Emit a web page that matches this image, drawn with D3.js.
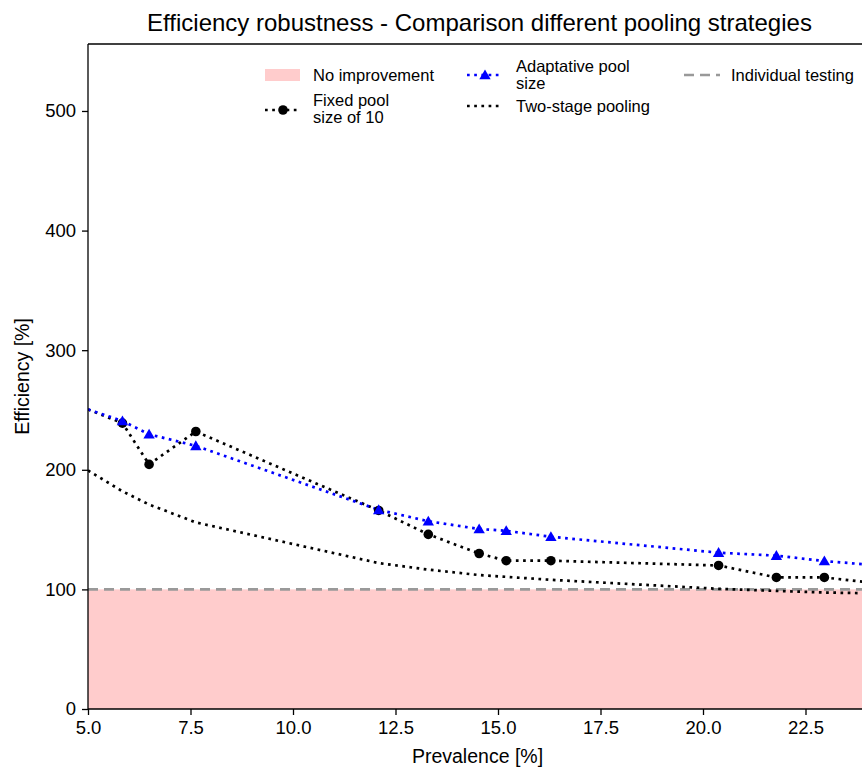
<!DOCTYPE html>
<html>
<head>
<meta charset="utf-8">
<script src="https://cdn.jsdelivr.net/npm/d3@7"></script>
<style>
  body { margin: 0; background: #fff; }
  svg text { font-family: "Liberation Sans", Arial, Helvetica, sans-serif; fill: #000; }
</style>
</head>
<body>
<div id="chart"></div>
<script>
// prevalence [%] at which the strategies were evaluated
const prevalence = [5.0, 5.84, 6.49, 7.63, 12.09, 13.3, 14.54, 15.2, 16.29, 20.38, 21.79, 22.96, 24.0];
// efficiency [%] per strategy
const fixedPool = [250.5, 239, 204.5, 232, 166, 146, 130, 124, 124, 120, 110, 110, 106];
const adaptivePool = [250.5, 240.8, 229.7, 220, 166.5, 157, 150.5, 149, 144, 130.7, 128.2, 123.7, 120.8];
const twoStage = [199.5, 182, 171, 156, 122, 116.5, 112, 110.5, 108, 100.5, 98.7, 97.4, 96.8];
const individualLevel = 100;
const xTicks = [5.0, 7.5, 10.0, 12.5, 15.0, 17.5, 20.0, 22.5];
const yTicks = [0, 100, 200, 300, 400, 500];

const W = 862, H = 767;
const margin = { top: 44, right: -5, bottom: 58, left: 88 };
const width = W - margin.left - margin.right;
const height = H - margin.top - margin.bottom;

const svg = d3.select("#chart").append("svg")
  .attr("width", W)
  .attr("height", H);

const g = svg.append("g")
  .attr("transform", `translate(${margin.left},${margin.top})`);

const x = d3.scaleLinear().domain([5, 24]).range([0, width]);
const y = d3.scaleLinear().domain([0, 556]).range([height, 0]);

g.append("clipPath").attr("id", "plotClip")
  .append("rect").attr("width", width).attr("height", height);

const plot = g.append("g").attr("clip-path", "url(#plotClip)");

// no improvement region
plot.append("rect")
  .attr("x", 0)
  .attr("y", y(individualLevel))
  .attr("width", width)
  .attr("height", height - y(individualLevel))
  .attr("fill", "#ffcccc");

// individual testing
plot.append("line")
  .attr("x1", 0).attr("x2", width)
  .attr("y1", y(individualLevel)).attr("y2", y(individualLevel))
  .attr("stroke", "#999999")
  .attr("stroke-width", 2.6)
  .attr("stroke-dasharray", "10,6");

const line = d3.line().x(d => x(d[0])).y(d => y(d[1]));
const dots = "2.7,4.5";

function series(values, color) {
  const pts = prevalence.map((p, i) => [p, values[i]]);
  plot.append("path")
    .datum(pts)
    .attr("d", line)
    .attr("fill", "none")
    .attr("stroke", color)
    .attr("stroke-width", 2.7)
    .attr("stroke-dasharray", dots);
  return pts.slice(1, -1);
}

const twoPts = series(twoStage, "#000");
const fixedPts = series(fixedPool, "#000");
const adaptPts = series(adaptivePool, "#0000ff");

plot.selectAll("circle.fixed")
  .data(fixedPts)
  .enter().append("circle")
  .attr("class", "fixed")
  .attr("cx", d => x(d[0]))
  .attr("cy", d => y(d[1]))
  .attr("r", 4.8)
  .attr("fill", "#000");

const tri = d3.symbol().type(d3.symbolTriangle).size(56);
plot.selectAll("path.adapt")
  .data(adaptPts)
  .enter().append("path")
  .attr("class", "adapt")
  .attr("d", tri)
  .attr("transform", d => `translate(${x(d[0])},${y(d[1]) + 1})`)
  .attr("fill", "#0000ff");

// axes
const xAxis = g.append("g")
  .attr("transform", `translate(0,${height})`)
  .call(d3.axisBottom(x).tickValues(xTicks).tickFormat(d3.format(".1f")).tickSize(6).tickPadding(6));
const yAxis = g.append("g")
  .call(d3.axisLeft(y).tickValues(yTicks).tickSize(6).tickPadding(6));

[xAxis, yAxis].forEach(a => {
  a.select(".domain").remove();
  a.selectAll("line").attr("stroke", "#000").attr("stroke-width", 1.3);
  a.selectAll("text").style("font-size", "18.5px").attr("fill", "#000");
});

// spines (right one is outside the picture)
g.append("line").attr("x1", 0).attr("x2", 0).attr("y1", 0).attr("y2", height)
  .attr("stroke", "#000").attr("stroke-width", 1.3);
g.append("line").attr("x1", 0).attr("x2", width).attr("y1", height).attr("y2", height)
  .attr("stroke", "#000").attr("stroke-width", 1.3);
g.append("line").attr("x1", 0).attr("x2", width).attr("y1", 0).attr("y2", 0)
  .attr("stroke", "#000").attr("stroke-width", 1.3);

// labels
svg.append("text")
  .attr("x", margin.left + width / 2 + 2)
  .attr("y", 31)
  .attr("text-anchor", "middle")
  .style("font-size", "24px")
  .text("Efficiency robustness - Comparison different pooling strategies");

svg.append("text")
  .attr("x", margin.left + width / 2)
  .attr("y", 763)
  .attr("text-anchor", "middle")
  .style("font-size", "19.5px")
  .text("Prevalence [%]");

svg.append("text")
  .attr("transform", `translate(29,${margin.top + height / 2}) rotate(-90)`)
  .attr("text-anchor", "middle")
  .style("font-size", "19.5px")
  .text("Efficiency [%]");

// legend
const leg = svg.append("g").style("font-size", "16.5px");

function handleLine(x0, yy, color, dash, w) {
  leg.append("line")
    .attr("x1", x0).attr("x2", x0 + 36)
    .attr("y1", yy).attr("y2", yy)
    .attr("stroke", color).attr("stroke-width", w)
    .attr("stroke-dasharray", dash);
}

function label(x0, yy, lines) {
  const t = leg.append("text").attr("x", x0).attr("y", yy - (lines.length - 1) * 8.5 + 6);
  lines.forEach((s, i) => t.append("tspan").attr("x", x0).attr("dy", i ? 17 : 0).text(s));
}

leg.append("rect").attr("x", 265).attr("y", 69).attr("width", 35).attr("height", 12).attr("fill", "#ffcccc");
label(313, 75, ["No improvement"]);

handleLine(265, 110, "#000", dots, 2.7);
leg.append("circle").attr("cx", 283).attr("cy", 110).attr("r", 4.8).attr("fill", "#000");
label(313, 108.5, ["Fixed pool", "size of 10"]);

handleLine(467, 75, "#0000ff", dots, 2.7);
leg.append("path").attr("d", tri).attr("transform", "translate(485,76)").attr("fill", "#0000ff");
label(516, 74.5, ["Adaptative pool", "size"]);

handleLine(467, 106, "#000", dots, 2.7);
label(516, 106, ["Two-stage pooling"]);

handleLine(684, 75, "#999999", "10,6", 2.6);
label(731, 75, ["Individual testing"]);
</script>
</body>
</html>
